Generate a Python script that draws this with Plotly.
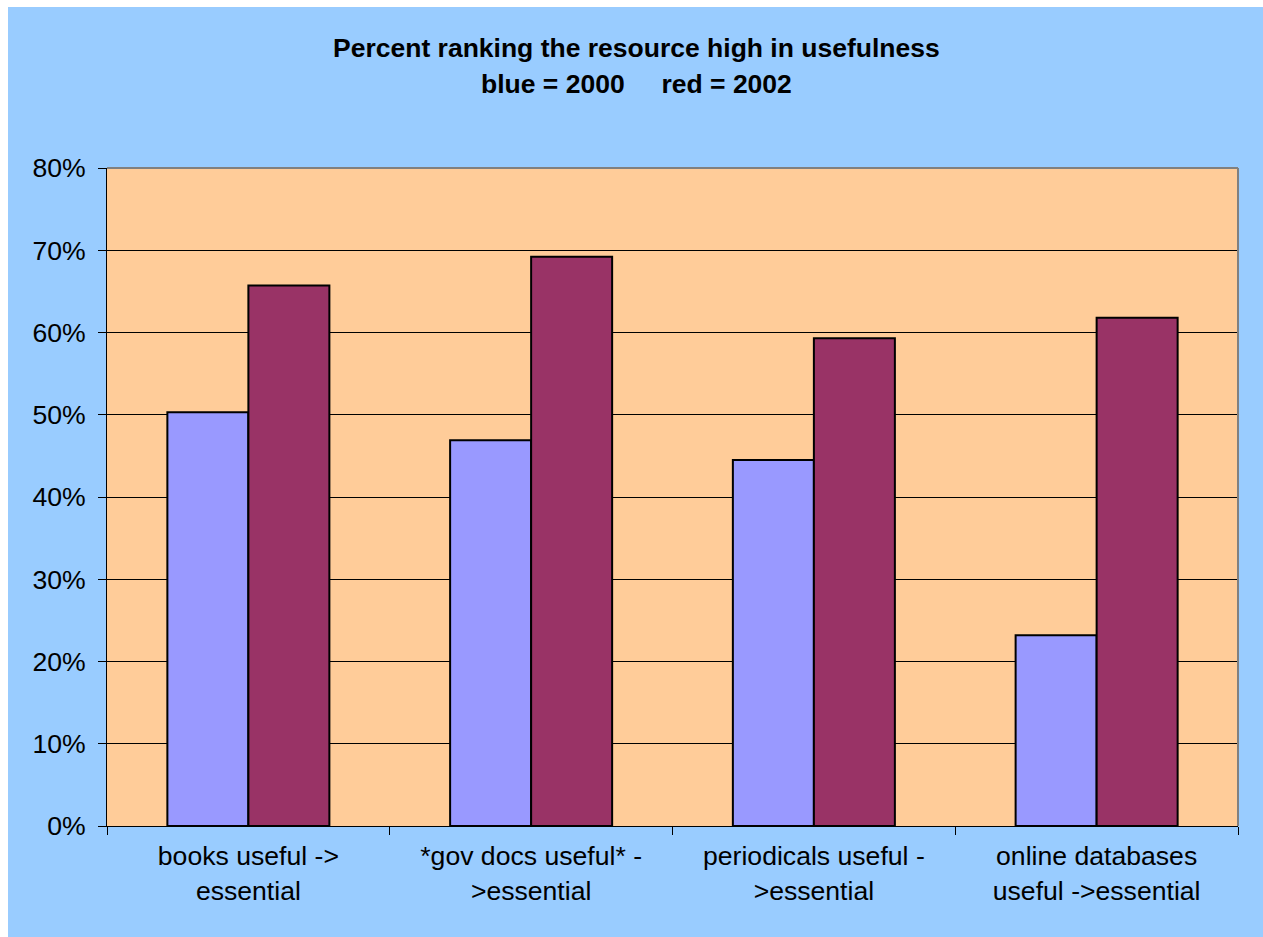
import plotly.graph_objects as go

categories = ["books useful -><br>essential", "*gov docs useful* -<br>>essential",
              "periodicals useful -<br>>essential", "online databases<br>useful ->essential"]
values_2000 = [0.503, 0.469, 0.445, 0.232]
values_2002 = [0.657, 0.692, 0.593, 0.618]
y_ticks = [0, 0.1, 0.2, 0.3, 0.4, 0.5, 0.6, 0.7, 0.8]
y_tick_labels = ["0%", "10%", "20%", "30%", "40%", "50%", "60%", "70%", "80%"]
title_line1 = "Percent ranking the resource high in usefulness"
title_line2 = "blue = 2000\u00a0\u00a0\u00a0\u00a0\u00a0red = 2002"

W, H = 1263, 937
L, R, T, B = 107, 1238, 168, 826
pw, ph = R - L, B - T

def px(x):
    return (x - L) / pw

def py(y):
    return (B - y) / ph

FONT = "Liberation Sans, Arial, sans-serif"

fig = go.Figure()
fig.add_trace(go.Bar(x=categories, y=values_2000, name="2000",
                     marker=dict(color="#9999FF", line=dict(color="black", width=2))))
fig.add_trace(go.Bar(x=categories, y=values_2002, name="2002",
                     marker=dict(color="#993366", line=dict(color="black", width=2))))

fig.update_layout(
    width=W, height=H,
    margin=dict(l=L, r=W - R, t=T, b=H - B, pad=0),
    paper_bgcolor="#99CCFF",
    plot_bgcolor="#FFCC99",
    showlegend=False,
    barmode="group",
    bargap=0.427,
    bargroupgap=0,
    font=dict(family=FONT, size=26.6, color="black"),
    xaxis=dict(showline=True, linecolor="black", linewidth=1,
               ticks="outside", ticklen=8, tickcolor="black", tickson="boundaries",
               showgrid=False, tickfont=dict(size=26.6), ticklabelstandoff=6),
    yaxis=dict(range=[0, 0.8], tickvals=y_ticks, ticktext=y_tick_labels,
               showline=True, linecolor="black", linewidth=1,
               ticks="outside", ticklen=8, tickcolor="black",
               showgrid=True, gridcolor="black", gridwidth=1,
               zeroline=False, tickfont=dict(size=26.6), ticklabelstandoff=7),
    shapes=[
        dict(type="rect", xref="paper", yref="paper", x0=px(0), x1=px(W), y0=py(0), y1=py(7),
             fillcolor="white", line=dict(width=0), layer="below"),
        dict(type="rect", xref="paper", yref="paper", x0=px(0), x1=px(8), y0=py(0), y1=py(H),
             fillcolor="white", line=dict(width=0), layer="below"),
        dict(type="line", xref="paper", yref="paper", x0=0, x1=1, y0=1, y1=1,
             line=dict(color="#808080", width=2)),
        dict(type="line", xref="paper", yref="paper", x0=1, x1=1, y0=0, y1=1,
             line=dict(color="#808080", width=2)),
    ],
    annotations=[
        dict(text="<b>%s</b>" % title_line1, xref="paper", yref="paper",
             x=px(636.5), y=py(48), xanchor="center", yanchor="middle", showarrow=False,
             font=dict(size=26.5, family=FONT, color="black")),
        dict(text="<b>%s</b>" % title_line2, xref="paper", yref="paper",
             x=px(636.5), y=py(84), xanchor="center", yanchor="middle", showarrow=False,
             font=dict(size=26.5, family=FONT, color="black")),
    ],
)

fig.write_html("out.html")
